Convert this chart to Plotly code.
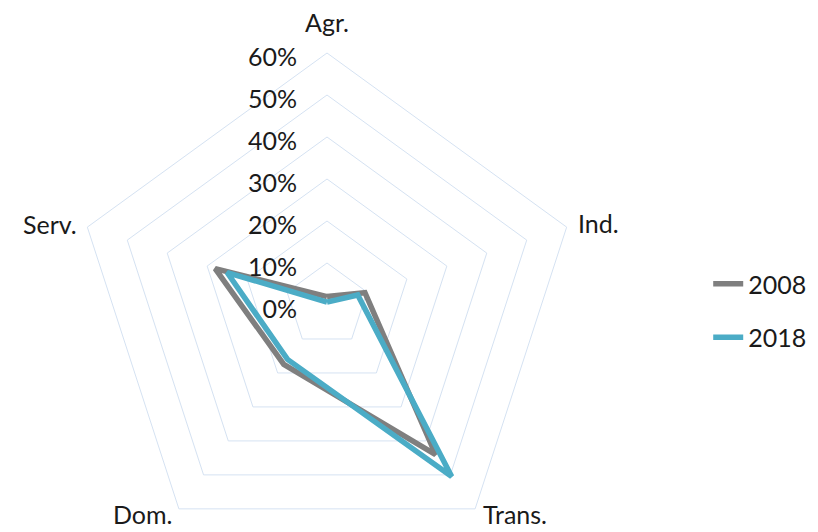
import plotly.graph_objects as go

categories = ["Agr.", "Ind.", "Trans.", "Dom.", "Serv."]
values_2008 = [2, 9.5, 44, 17.5, 28]
values_2018 = [0.7, 7.7, 50.5, 16, 25]
radial_ticks = [0, 10, 20, 30, 40, 50, 60]
radial_labels = ["0%", "10%", "20%", "30%", "40%", "50%", "60%"]

GRID = "#D5E2F2"
FONT = "Lato"
TEXT = "#1a1a1a"
FS = 25

fig = go.Figure()
for name, vals, color in [("2008", values_2008, "#7F7F7F"), ("2018", values_2018, "#4BACC6")]:
    fig.add_trace(go.Scatterpolar(
        r=vals + vals[:1],
        theta=categories + categories[:1],
        mode="lines",
        name=name,
        legendgroup=name,
        line=dict(color=color, width=5.5),
    ))

W, H = 818, 560
cx, cy, R = 319, 297, 252

# category label placement (figure pixels), in the same order as categories
label_pos = [
    (319, 14, "center"),   # Agr.
    (568, 215, "left"),    # Ind.
    (473, 506, "left"),    # Trans.
    (166, 506, "right"),   # Dom.
    (71, 216, "right"),    # Serv.
]
annotations = []
for cat, (px, py, xa) in zip(categories, label_pos):
    annotations.append(dict(
        text=cat, xref="paper", yref="paper",
        x=px / W, y=1 - py / H, xanchor=xa, yanchor="middle",
        showarrow=False, font=dict(family=FONT, size=FS, color=TEXT),
    ))

fig.update_layout(
    width=W, height=H,
    margin=dict(l=0, r=0, t=0, b=0),
    paper_bgcolor="white",
    plot_bgcolor="white",
    font=dict(family=FONT, size=FS, color=TEXT),
    annotations=annotations,
    polar=dict(
        domain=dict(x=[(cx - R) / W, (cx + R) / W], y=[1 - (cy + R) / H, 1 - (cy - R) / H]),
        bgcolor="white",
        gridshape="linear",
        radialaxis=dict(
            range=[0, 60],
            tickvals=radial_ticks,
            ticktext=radial_labels,
            angle=90,
            side="counterclockwise",
            showline=False,
            gridcolor=GRID,
            gridwidth=1,
            ticks="outside",
            ticklen=7,
            tickcolor="rgba(0,0,0,0)",
            tickfont=dict(size=FS),
        ),
        angularaxis=dict(
            rotation=90,
            direction="clockwise",
            showgrid=False,
            showline=True,
            linecolor=GRID,
            linewidth=1,
            ticks="",
            showticklabels=False,
        ),
    ),
    legend=dict(
        x=0.856, xanchor="left",
        y=1 - 302.5 / H, yanchor="middle",
        traceorder="grouped",
        tracegroupgap=18,
        font=dict(size=FS),
    ),
)

fig.write_html("out.html")
